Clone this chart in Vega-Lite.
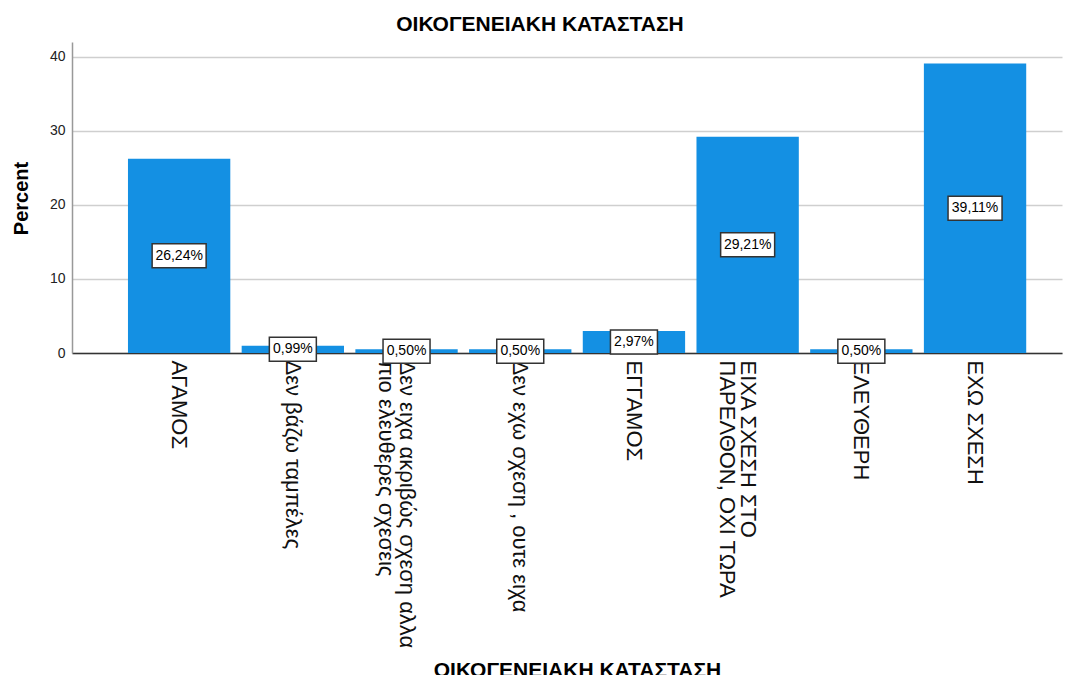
{
  "$schema": "https://vega.github.io/schema/vega-lite/v6.json",
  "autosize": {"type": "none"},
  "width": 990,
  "height": 311,
  "padding": {"left": 72, "top": 42, "right": 11, "bottom": 322},
  "background": "white",
  "title": {
    "text": "ΟΙΚΟΓΕΝΕΙΑΚΗ ΚΑΤΑΣΤΑΣΗ",
    "anchor": "middle",
    "dx": -27,
    "dy": 21,
    "offset": 11,
    "baseline": "alphabetic",
    "font": "Liberation Sans",
    "fontSize": 21,
    "fontWeight": "bold",
    "color": "#000000"
  },
  "config": {
    "view": {"stroke": null},
    "font": "Liberation Sans"
  },
  "data": {
    "values": [
      {"status": "ΑΓΑΜΟΣ", "Percent": 26.24},
      {"status": "Δεν βάζω ταμπέλες", "Percent": 0.99},
      {"status": "Δεν ειχα ακριβώς σχεση αλλα πιο ελευθερες σχεσεις", "Percent": 0.50},
      {"status": "Δεν εχω σχεση , ουτε ειχα", "Percent": 0.50},
      {"status": "ΕΓΓΑΜΟΣ", "Percent": 2.97},
      {"status": "ΕΙΧΑ ΣΧΕΣΗ ΣΤΟ ΠΑΡΕΛΘΟΝ, ΟΧΙ ΤΩΡΑ", "Percent": 29.21},
      {"status": "ΕΛΕΥΘΕΡΗ", "Percent": 0.50},
      {"status": "ΕΧΩ ΣΧΕΣΗ", "Percent": 39.11}
    ]
  },
  "transform": [
    {"calculate": "datum.Percent / 2", "as": "mid"},
    {"calculate": "replace(format(datum.Percent, '.2f'), '.', ',') + '%'", "as": "label"}
  ],
  "encoding": {
    "x": {
      "field": "status",
      "type": "nominal",
      "sort": null,
      "scale": {"paddingInner": 0.1, "paddingOuter": 0.4035, "align": 0.61},
      "axis": {
        "title": "ΟΙΚΟΓΕΝΕΙΑΚΗ ΚΑΤΑΣΤΑΣΗ",
        "titleFontSize": 21,
        "titleFontWeight": "bold",
        "titleColor": "#000000",
        "titleX": 505,
        "titleY": 323,
        "titleAlign": "center",
        "titleBaseline": "alphabetic",
        "labelAngle": 90,
        "labelAlign": "left",
        "labelBaseline": "middle",
        "labelFontSize": 22,
        "labelLineHeight": 21,
        "labelColor": "#111111",
        "labelPadding": 7,
        "labelLimit": 0,
        "labelOverlap": false,
        "ticks": false,
        "domainColor": "#333333",
        "domainWidth": 1.5,
        "labelExpr": "datum.label == 'ΕΙΧΑ ΣΧΕΣΗ ΣΤΟ ΠΑΡΕΛΘΟΝ, ΟΧΙ ΤΩΡΑ' ? ['ΕΙΧΑ ΣΧΕΣΗ ΣΤΟ', 'ΠΑΡΕΛΘΟΝ, ΟΧΙ ΤΩΡΑ'] : (datum.label == 'Δεν ειχα ακριβώς σχεση αλλα πιο ελευθερες σχεσεις' ? ['Δεν ειχα ακριβώς σχεση αλλα', 'πιο ελευθερες σχεσεις'] : datum.label)"
      }
    }
  },
  "layer": [
    {
      "mark": {"type": "bar", "color": "#1490e3"},
      "encoding": {
        "y": {
          "field": "Percent",
          "type": "quantitative",
          "scale": {"domain": [0, 42], "nice": false},
          "axis": {
            "title": "Percent",
            "titleFontSize": 20,
            "titleFontWeight": "bold",
            "titleColor": "#000000",
            "titleX": -45,
            "titleY": 156,
            "titleAngle": -90,
            "titleAlign": "center",
            "titleBaseline": "alphabetic",
            "values": [0, 10, 20, 30, 40],
            "labelFontSize": 14,
            "labelColor": "#222222",
            "labelPadding": 7,
            "ticks": false,
            "domainColor": "#999999",
            "domainWidth": 1.5,
            "grid": true,
            "gridColor": "#cfcfcf",
            "gridWidth": 1.5
          }
        }
      }
    },
    {
      "mark": {
        "type": "point",
        "filled": true,
        "fill": "white",
        "stroke": "#333333",
        "strokeWidth": 1.5,
        "opacity": 1
      },
      "encoding": {
        "y": {"field": "mid", "type": "quantitative"},
        "shape": {
          "condition": {"test": "datum.Percent >= 10", "value": "M-1,-0.444L1,-0.444L1,0.444L-1,0.444Z"},
          "value": "M-1,-0.511L1,-0.511L1,0.511L-1,0.511Z"
        },
        "size": {
          "condition": {"test": "datum.Percent >= 10", "value": 2916},
          "value": 2209
        }
      }
    },
    {
      "mark": {"type": "text", "fontSize": 14, "color": "#000000", "align": "center", "baseline": "middle"},
      "encoding": {
        "y": {"field": "mid", "type": "quantitative"},
        "text": {"field": "label", "type": "nominal"}
      }
    }
  ]
}
